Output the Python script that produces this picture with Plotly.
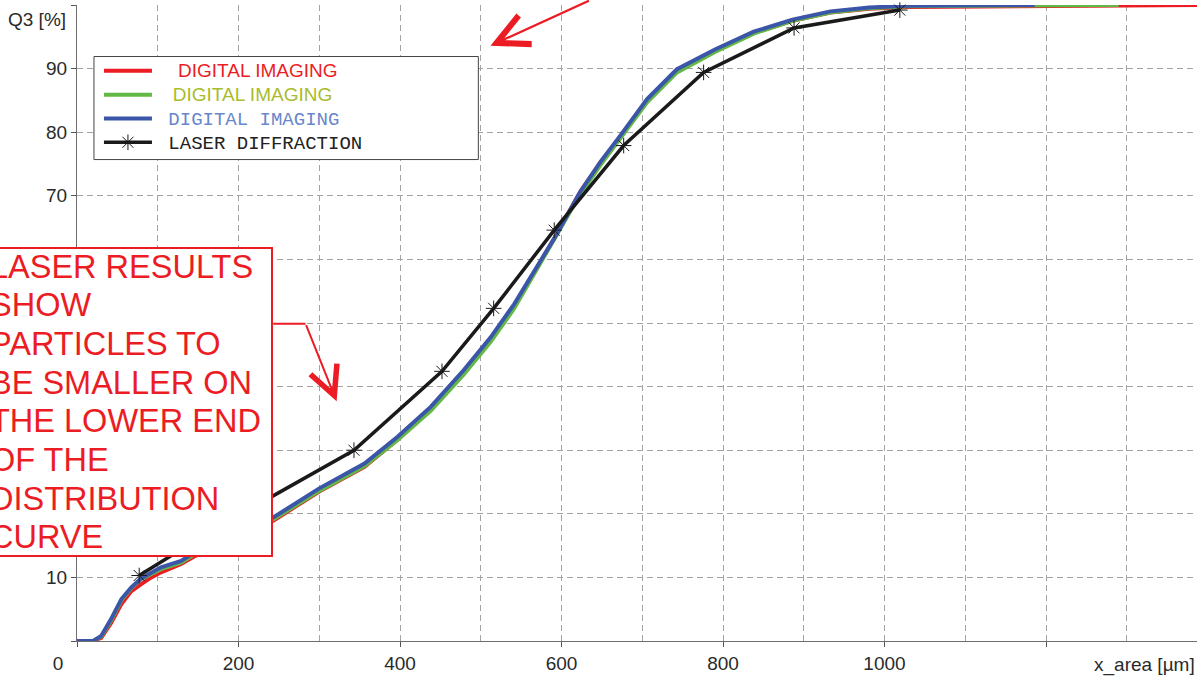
import plotly.graph_objects as go

# ---- data ----
di_x = [0, 20, 30, 42, 55, 67, 79, 92, 104, 129, 145, 200, 244, 300, 356, 397, 438, 479,
        512, 541, 566, 591, 623, 648, 673, 706, 743, 790, 838, 886, 933, 981, 1030, 1186]
blue_y = [0, 0, 0.8, 3.4, 6.6, 8.4, 9.8, 10.8, 11.6, 12.6, 13.9, 16.9, 19.5, 24.0, 27.9, 32.1,
          36.8, 42.6, 47.7, 52.9, 58.1, 63.3, 70.6, 75.3, 79.5, 85.2, 89.9, 93.0, 95.8, 97.7,
          99.0, 99.6, 99.9, 100]
green_x = di_x + [1290]
green_y = [0, 0, 0.7, 3.2, 6.4, 8.3, 9.7, 10.6, 11.3, 12.3, 13.6, 16.6, 19.2, 23.6, 27.5, 31.6,
           36.2, 41.9, 47.0, 52.2, 57.6, 63.0, 70.2, 74.8, 79.0, 84.7, 89.4, 92.6, 95.5, 97.5,
           98.8, 99.5, 99.8, 100, 100]
red_x = di_x + [1290, 1387]
red_y = [0, 0, 0.5, 2.8, 5.8, 7.8, 8.9, 10.0, 10.8, 12.1, 13.3, 16.3, 19.0, 23.5, 27.4, 31.7,
         36.4, 42.2, 47.3, 52.6, 57.9, 63.3, 70.6, 75.2, 79.3, 85.0, 89.6, 92.8, 95.6, 97.5,
         98.8, 99.4, 99.7, 99.9, 100, 100]
laser_x = [77, 170, 343, 452, 516, 591, 677, 776, 888, 1019]
laser_y = [10.3, 17.6, 30.0, 42.4, 52.3, 64.6, 77.9, 89.4, 96.4, 99.2]

x_ticks = [0, 200, 400, 600, 800, 1000, 1200]
x_ticktext = ["0\u2003\u2003", "200", "400", "600", "800", "1000", ""]
y_ticks = [0, 10, 20, 30, 40, 50, 60, 70, 80, 90, 100]
# labels 20-60 are hidden behind the note box in the reference
y_ticktext = ["", "10", "", "", "", "", "", "70", "80", "90", ""]

note_lines = ["LASER RESULTS", "SHOW", "PARTICLES TO", "BE SMALLER ON",
              "THE LOWER END", "OF THE", "DISTRIBUTION", "CURVE"]

RED = "#ec1c24"
GREEN = "#62b845"
BLUE = "#3b56a8"
BLACK = "#1a1a1a"
SANS = "Arial, Liberation Sans, sans-serif"
MONO = "Liberation Mono, Courier New, monospace"


def lab(text, color, family, pad):
    return ('<span style="font-family:%s; font-size:19px; color:%s">%s%s</span>'
            % (family, color, "\u00a0" * pad, text))


fig = go.Figure()
fig.add_trace(go.Scatter(x=red_x, y=red_y, mode="lines", cliponaxis=False,
                         line=dict(color=RED, width=4),
                         name=lab("DIGITAL IMAGING", RED, SANS, 4)))
fig.add_trace(go.Scatter(x=green_x, y=green_y, mode="lines", cliponaxis=False,
                         line=dict(color=GREEN, width=4),
                         name=lab("DIGITAL IMAGING", "#a8bc2c", SANS, 3)))
fig.add_trace(go.Scatter(x=di_x, y=blue_y, mode="lines", cliponaxis=False,
                         line=dict(color=BLUE, width=4),
                         name=lab("DIGITAL IMAGING", "#6a86cc", MONO, 1)))
fig.add_trace(go.Scatter(x=laser_x, y=laser_y, mode="lines+markers", cliponaxis=False,
                         line=dict(color=BLACK, width=3.5),
                         marker=dict(symbol="asterisk-open", size=13,
                                     line=dict(color="#555555", width=1)),
                         name=lab("LASER DIFFRACTION", "#222222", MONO, 1)))

grid = dict(showgrid=True, gridcolor="#a3a3a3", gridwidth=1, griddash="6px,4px")
fig.update_xaxes(range=[0, 1387], tickvals=x_ticks, ticktext=x_ticktext,
                 ticks="outside", ticklen=5, tickcolor="#555555",
                 showline=True, linecolor="#6e6e6e", linewidth=1,
                 tickfont=dict(size=19, color="#2a2a2a"),
                 minor=dict(dtick=100, tick0=0, showgrid=True, gridcolor="#a3a3a3",
                            griddash="6px,4px"),
                 zeroline=False, **grid)
fig.update_yaxes(range=[0, 100], tickvals=y_ticks, ticktext=y_ticktext,
                 ticks="outside", ticklen=5, tickcolor="#555555",
                 showline=True, linecolor="#6e6e6e", linewidth=1,
                 tickfont=dict(size=19, color="#2a2a2a"),
                 zeroline=False, **grid)

fig.update_layout(
    width=1202, height=681,
    margin=dict(l=77, r=5, t=5, b=40),
    plot_bgcolor="white", paper_bgcolor="white",
    font=dict(family=SANS, size=19, color="#2a2a2a"),
    showlegend=True,
    legend=dict(x=0.0196, y=0.923, xanchor="left", yanchor="top",
                bgcolor="rgba(0,0,0,0)", borderwidth=0, itemwidth=48,
                font=dict(size=16), traceorder="normal"),
)

# legend frame
fig.add_shape(type="rect", xref="x", yref="y", x0=21, x1=497, y0=75.7, y1=91.9,
              line=dict(color="#444444", width=1), fillcolor="white", layer="between")

# annotation box
fig.add_annotation(
    xref="x", yref="y", x=243, y=62.0, xanchor="right", yanchor="top",
    text="<br>".join('<span style="font-size:32.5px">%s</span>' % s for s in note_lines),
    align="left", valign="middle", width=280, height=304, borderpad=1,
    showarrow=False, bgcolor="white", bordercolor=RED, borderwidth=2,
    font=dict(family=SANS, size=29.7, color=RED))

# elbow connector and arrows
fig.add_shape(type="line", xref="x", yref="y", x0=243, y0=49.9, x1=283, y1=49.9,
              line=dict(color=RED, width=2), layer="above")
fig.add_annotation(xref="x", yref="y", x=321.5, y=37.7, axref="x", ayref="y",
                   ax=283, ay=49.9, text="", showarrow=True, arrowhead=5,
                   arrowsize=2.8, arrowwidth=2, arrowcolor=RED, standoff=0)
fig.add_annotation(xref="x", yref="y", x=512, y=93.6, ax=100, ay=-62, text="",
                   showarrow=True, arrowhead=5, arrowsize=2.8, arrowwidth=2.2,
                   arrowcolor=RED, standoff=0)

# axis titles
fig.add_annotation(xref="paper", yref="paper", x=-0.008, y=0.977, xanchor="right",
                   yanchor="middle", text="Q3 [%]", showarrow=False,
                   font=dict(size=19, color="#2a2a2a"))
fig.add_annotation(xref="paper", yref="paper", x=1.0, y=-0.038, xanchor="right",
                   yanchor="middle", text="x_area [µm]", showarrow=False,
                   font=dict(size=19, color="#2a2a2a"))

fig.write_html("out.html", config={"displayModeBar": False},
               post_script="document.body.style.margin='0';document.body.style.overflow='hidden';")
